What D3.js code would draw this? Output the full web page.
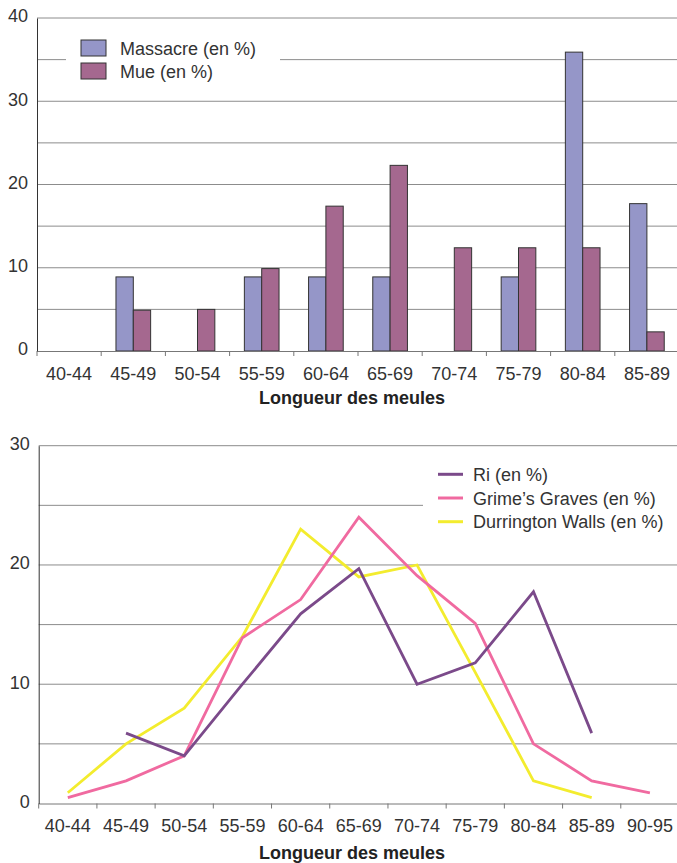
<!DOCTYPE html>
<html>
<head>
<meta charset="utf-8">
<script src="https://cdn.jsdelivr.net/npm/d3@7/dist/d3.min.js"></script>
<style>
  body { margin: 0; background: #fff; }
  svg { display: block; font-family: "Liberation Sans", Arial, sans-serif; }
  .tick text { fill: #333; font-size: 18px; font-family: "Liberation Sans", Arial, sans-serif; }
</style>
</head>
<body>
<svg id="chart" width="677" height="863"></svg>
<script>
// ---- data: bar chart (top)
var barCategories = ["40-44", "45-49", "50-54", "55-59", "60-64", "65-69", "70-74", "75-79", "80-84", "85-89"];
var barSeries = ["Massacre (en %)", "Mue (en %)"];
var massacre = [0, 8.9, 0, 8.9, 8.9, 8.9, 0, 8.9, 35.9, 17.7];
var mue = [0, 4.9, 5.0, 9.9, 17.4, 22.3, 12.4, 12.4, 12.4, 2.3];
var barTicks = [0, 10, 20, 30, 40];

// ---- data: line chart (bottom)
var lineCategories = ["40-44", "45-49", "50-54", "55-59", "60-64", "65-69", "70-74", "75-79", "80-84", "85-89", "90-95"];
var lineSeries = ["Ri (en %)", "Grime\u2019s Graves (en %)", "Durrington Walls (en %)"];
var ri = [null, 5.9, 4.0, 10.0, 15.9, 19.7, 10.0, 11.8, 17.75, 5.9, null];
var grimes = [0.5, 1.9, 4.0, 13.9, 17.1, 24.0, 19.1, 15.1, 5.0, 1.9, 0.9];
var durrington = [0.9, 5.0, 8.0, 14.0, 23.0, 19.0, 20.0, 11.0, 1.9, 0.5, null];
var lineTicks = [0, 10, 20, 30];

var barColors = ["#9596c8", "#a5688f"];
var lineColors = ["#7b4a8a", "#f06aa0", "#f3ec2e"];

var svg = d3.select("#chart");

//=================== shared helpers ====================================
function drawGrid(grp, y, x0, x1, maxVal) {
    var gridVals = d3.range(5, maxVal + 1, 5);
    grp.selectAll(".grid")
        .data(gridVals)
        .enter()
        .append("line")
        .classed("grid", true)
        .attr("x1", x0).attr("x2", x1)
        .attr("y1", function (d) { return y(d); })
        .attr("y2", function (d) { return y(d); })
        .style("stroke", "#8c8c8c")
        .style("stroke-width", 1);
}

function drawAxes(grp, x, y, ticks, bottom) {
    var bw = x.bandwidth();
    var xAxis = grp.append("g")
        .attr("transform", "translate(0," + bottom + ")")
        .call(d3.axisBottom(x).tickSize(5).tickSizeOuter(0).tickPadding(11));
    xAxis.attr("font-family", null);
    xAxis.select(".domain").style("stroke", "#777");
    xAxis.selectAll(".tick line")
        .attr("transform", "translate(" + (-bw / 2) + ",0)")
        .style("stroke", "#777");
    // closing tick at the right end
    xAxis.append("line")
        .attr("x1", x.range()[1]).attr("x2", x.range()[1])
        .attr("y1", 0).attr("y2", 5)
        .style("stroke", "#777");
    xAxis.selectAll(".tick text").attr("dy", "0.71em");

    var yAxis = grp.append("g")
        .attr("transform", "translate(" + x.range()[0] + ",0)")
        .call(d3.axisLeft(y).tickValues(ticks).tickSize(0).tickPadding(9));
    yAxis.attr("font-family", null);
    yAxis.select(".domain").style("stroke", "#333");
    yAxis.selectAll(".tick text").attr("dy", "0.22em");
}

function drawTitle(grp, cx, ty) {
    grp.append("text")
        .attr("x", cx)
        .attr("y", ty)
        .attr("text-anchor", "middle")
        .style("font-size", "18px")
        .style("font-weight", "bold")
        .style("fill", "#222")
        .text("Longueur des meules");
}

//=================== top: grouped bar chart =============================
function drawBars() {
    var grp = svg.append("g").classed("bars", true);
    var x = d3.scaleBand().domain(barCategories).range([37, 679]);
    var y = d3.scaleLinear().domain([0, 40]).range([351, 18]);
    var bw = x.bandwidth();
    var x1 = d3.scaleBand().domain(barSeries).range([0, bw * 0.54]);

    drawGrid(grp, y, 37, 679, 40);

    // legend background hides the gridline under it
    var leg = grp.append("g").classed("legend", true);
    leg.append("rect")
        .attr("x", 66).attr("y", 30).attr("width", 214).attr("height", 58)
        .style("fill", "#fff");
    var items = leg.selectAll(".item")
        .data(barSeries)
        .enter()
        .append("g")
        .classed("item", true)
        .attr("transform", function (d, i) { return "translate(81," + (40 + i * 23) + ")"; });
    items.append("rect")
        .attr("width", 25).attr("height", 16)
        .style("fill", function (d, i) { return barColors[i]; })
        .style("stroke", "#333").style("stroke-width", 1);
    items.append("text")
        .attr("x", 39).attr("y", 14.5)
        .style("font-size", "18px").style("fill", "#333")
        .text(function (d) { return d; });

    var rows = barCategories.map(function (c, i) {
        return { cat: c, values: [massacre[i], mue[i]] };
    });

    var groups = grp.selectAll(".cat")
        .data(rows)
        .enter()
        .append("g")
        .classed("cat", true)
        .attr("transform", function (d) { return "translate(" + (x(d.cat) + bw * 0.23) + ",0)"; });

    groups.selectAll("rect")
        .data(function (d) {
            return d.values.map(function (v, i) { return { key: barSeries[i], v: v, i: i }; });
        })
        .enter()
        .filter(function (d) { return d.v > 0; })
        .append("rect")
        .attr("x", function (d) { return x1(d.key); })
        .attr("width", x1.bandwidth())
        .attr("y", function (d) { return y(d.v); })
        .attr("height", function (d) { return y(0) - y(d.v); })
        .style("fill", function (d) { return barColors[d.i]; })
        .style("stroke", "#333")
        .style("stroke-width", 1);

    drawAxes(grp, x, y, barTicks, 351);
    drawTitle(grp, 352, 404);
}

//=================== bottom: line chart =================================
function drawLines() {
    var grp = svg.append("g").classed("lines", true);
    var x = d3.scaleBand().domain(lineCategories).range([38.7, 679]);
    var y = d3.scaleLinear().domain([0, 30]).range([803.5, 445.7]);
    var bw = x.bandwidth();

    drawGrid(grp, y, 38.7, 679, 30);

    var leg = grp.append("g").classed("legend", true);
    leg.append("rect")
        .attr("x", 423).attr("y", 458).attr("width", 260).attr("height", 78)
        .style("fill", "#fff");
    var items = leg.selectAll(".item")
        .data(lineSeries)
        .enter()
        .append("g")
        .classed("item", true)
        .attr("transform", function (d, i) { return "translate(438," + (474.3 + i * 23.7) + ")"; });
    items.append("line")
        .attr("x1", 0).attr("x2", 25)
        .style("stroke", function (d, i) { return lineColors[i]; })
        .style("stroke-width", 3);
    items.append("text")
        .attr("x", 35).attr("y", 6.5)
        .style("font-size", "18px").style("fill", "#333")
        .text(function (d) { return d; });

    var lineGen = d3.line()
        .defined(function (d) { return d != null; })
        .x(function (d, i) { return x(lineCategories[i]) + bw / 2; })
        .y(function (d) { return y(d); });

    grp.selectAll(".serie")
        .data([durrington, grimes, ri].map(function (vals, k) { return { vals: vals, c: lineColors[2 - k] }; }))
        .enter()
        .append("path")
        .classed("serie", true)
        .attr("d", function (d) { return lineGen(d.vals); })
        .style("fill", "none")
        .style("stroke", function (d) { return d.c; })
        .style("stroke-width", 2.8)
        .style("stroke-linejoin", "miter");

    drawAxes(grp, x, y, lineTicks, 803.5);
    drawTitle(grp, 352, 859);
}

drawBars();
drawLines();
</script>
</body>
</html>
